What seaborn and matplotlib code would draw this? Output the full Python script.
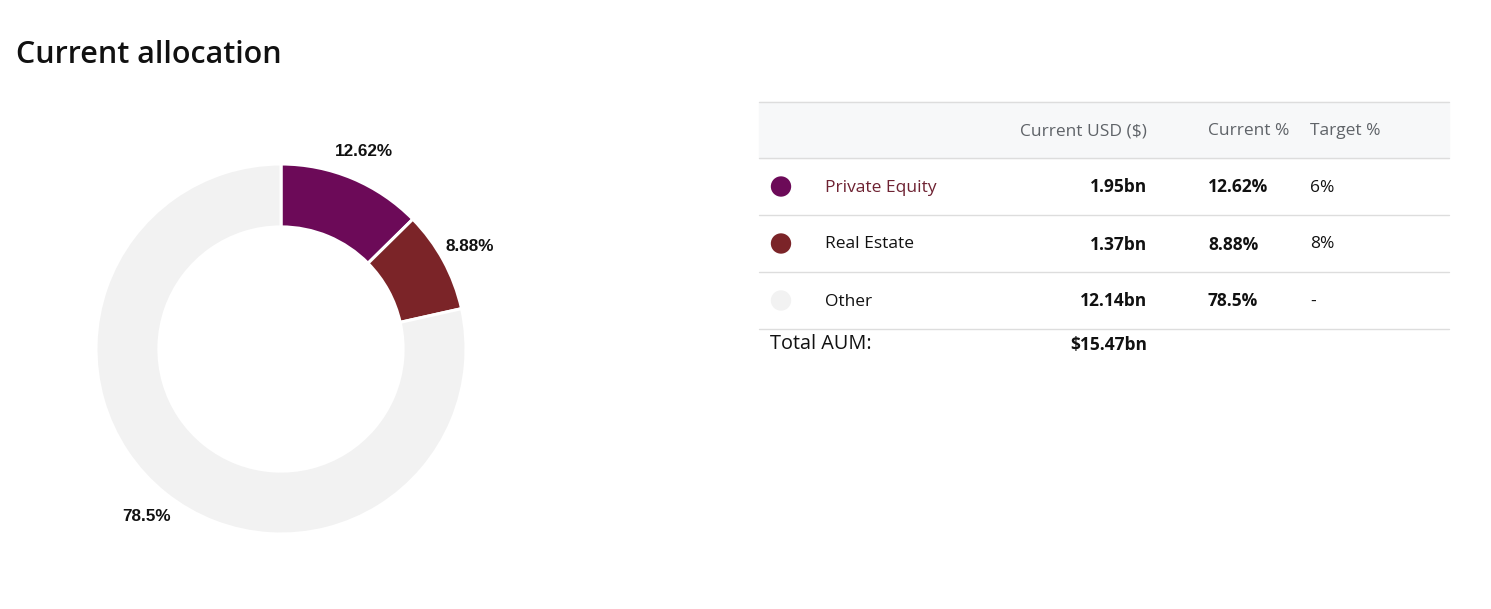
import matplotlib
matplotlib.use("Agg")
import matplotlib.pyplot as plt
import seaborn as sns
import pandas as pd

# ---- data ----
categories = ["Private Equity", "Real Estate", "Other"]
current_pct = [12.62, 8.88, 78.5]
pct_labels = ["12.62%", "8.88%", "78.5%"]
usd_labels = ["1.95bn", "1.37bn", "12.14bn"]
target_labels = ["6%", "8%", "-"]
headers = ["Current USD ($)", "Current %", "Target %"]
total_label = "Total AUM:"
total_value = "$15.47bn"
colors = ["#6c0a58", "#7b2428", "#f2f2f2"]
name_colors = ["#6e2232", "#111111", "#111111"]

sns.set_theme(style="white")
plt.rcParams["font.family"] = ["Open Sans", "DejaVu Sans"]

W, H = 1491, 609
fig = plt.figure(figsize=(W / 100, H / 100), dpi=100)
fig.patch.set_facecolor("white")

# ---- donut ----
cx, cy, R = 281, 349, 185
ax = fig.add_axes([(cx - R) / W, 1 - (cy + R) / H, 2 * R / W, 2 * R / H])
wedges, texts = ax.pie(
    current_pct, colors=colors, startangle=90, counterclock=False,
    labels=pct_labels, labeldistance=1.16, radius=1.0,
    wedgeprops=dict(width=0.34, edgecolor="white", linewidth=2.2),
    textprops=dict(fontsize=12.3, fontweight="bold", family="Liberation Sans", color="#111111"),
)
for t in texts:
    t.set_ha("center")
    t.set_va("center")
ax.set_aspect("equal")
ax.set_xlim(-1, 1)
ax.set_ylim(-1, 1)
ax.axis("off")

# ---- title ----
fig.text(16 / W, 1 - 55 / H, "Current allocation", fontsize=22, color="#111111",
         ha="left", va="center", fontweight="semibold",
         family=["Open Sans", "DejaVu Sans"])

# ---- table overlay ----
tax = fig.add_axes([0, 0, 1, 1])

x0, x1 = 759, 1449
header_top, header_bot = 102, 158
row_h = 57
tax.fill_between([x0, x1], header_top, header_bot, color="#f7f8f9", zorder=0)
line_c = "#dddddd"
tax.plot([x0, x1], [header_top, header_top], color=line_c, lw=1)
tax.plot([x0, x1], [header_bot, header_bot], color=line_c, lw=1)

hy = (header_top + header_bot) / 2 + 1
fs = 12.5
tax.text(1147, hy, headers[0], ha="right", va="center", fontsize=fs, color="#5f6368")
tax.text(1208, hy, headers[1], ha="left", va="center", fontsize=fs, color="#5f6368")
tax.text(1310, hy, headers[2], ha="left", va="center", fontsize=fs, color="#5f6368")

row_y = []
for i, cat in enumerate(categories):
    yc = header_bot + row_h * i + row_h / 2
    row_y.append(yc)
    ybot = header_bot + row_h * (i + 1)
    tax.plot([x0, x1], [ybot, ybot], color=line_c, lw=1)
    tax.text(825, yc + 1, cat, ha="left", va="center", fontsize=fs, color=name_colors[i])
    tax.text(1147, yc + 1, usd_labels[i], ha="right", va="center", fontsize=fs,
             fontweight="bold", color="#111111")
    tax.text(1208, yc + 1, pct_labels[i], ha="left", va="center", fontsize=fs,
             fontweight="bold", color="#111111")
    tax.text(1310, yc + 1, target_labels[i], ha="left", va="center", fontsize=fs, color="#111111")

dots = pd.DataFrame({"x": [781] * len(categories), "y": row_y, "cat": categories})
sns.scatterplot(data=dots, x="x", y="y", hue="cat", palette=colors, s=215,
                edgecolor="none", legend=False, ax=tax)
tax.set_xlim(0, W)
tax.set_ylim(H, 0)
tax.axis("off")

ty = header_bot + row_h * len(categories) + 15
tax.text(770, ty, total_label, ha="left", va="center", fontsize=14.3, color="#111111")
tax.text(1147, ty + 1, total_value, ha="right", va="center", fontsize=fs,
         fontweight="bold", color="#111111")

fig.savefig("out.png", dpi=100, facecolor="white")
